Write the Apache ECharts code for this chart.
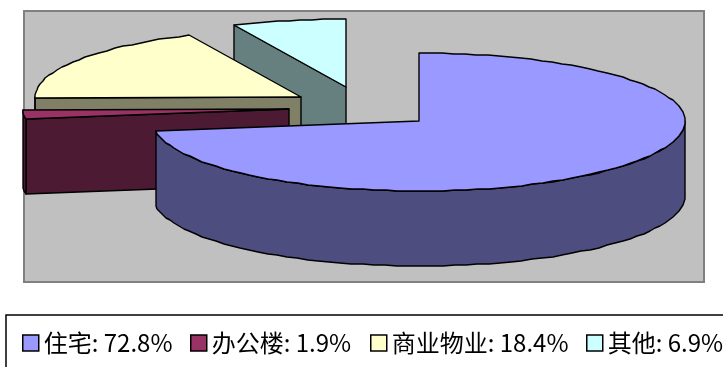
<!DOCTYPE html>
<html>
<head>
<meta charset="utf-8">
<style>html,body{margin:0;padding:0;background:#fff;overflow:hidden}#c{width:723px;height:367px}</style>
<script src="https://cdn.jsdelivr.net/npm/echarts@6/dist/echarts.min.js"></script>
</head>
<body>
<div id="c"></div>
<script>
// Property mix, percentage share per category
const categories = ['住宅', '办公楼', '商业物业', '其他'];
const shares = [72.8, 1.9, 18.4, 6.9];
const topColors = ['#9999ff', '#993366', '#ffffcc', '#ccffff'];
const wallColors = ['#4d4d80', '#4d1a33', '#808066', '#668080'];

// Tilted pie geometry, in pixels
const pie = { cx: 419, cy: 121, rx: 266, ryTop: 68, ryBottom: 70, depth: 75 };
// Exploded slices are shifted from the pie centre by these amounts
const shiftX = [0, -130, -118, -73];
const shiftY = [0, -12, -24, -34];
const legendLeft = [22, 190, 370, 586];

const total = shares.reduce((a, b) => a + b, 0);
const starts = [];
shares.reduce((sum, v, i) => { starts[i] = sum; return sum + v; }, 0);

// Rim point for an angle measured clockwise from twelve o'clock
function rim(deg, ox, oy) {
  const t = deg * Math.PI / 180;
  const c = Math.cos(t);
  const ry = c > 0 ? pie.ryTop : pie.ryBottom;
  return [Math.round(pie.cx + ox + pie.rx * Math.sin(t)), Math.round(pie.cy + oy - ry * c)];
}
function arc(a, b, ox, oy) {
  const pts = [];
  const n = Math.max(1, Math.ceil((b - a) / 2.5));
  for (let k = 0; k <= n; k++) pts.push(rim(a + (b - a) * k / n, ox, oy));
  return pts;
}
const down = p => [p[0], p[1] + pie.depth];

function renderSlice(index) {
  return function (params, api) {
    const value = api.value(0);
    const a = starts[index] / total * 360;
    const b = a + value / total * 360;
    const ox = shiftX[index], oy = shiftY[index];
    const apex = [pie.cx + ox, pie.cy + oy];
    const line = { stroke: '#000', lineWidth: 1.4, lineJoin: 'round' };
    const children = [];
    const wall = pts => children.push({
      type: 'polygon',
      shape: { points: pts },
      style: Object.assign({ fill: wallColors[index] }, line)
    });
    // Radial cut face, visible when the start edge lies on the left half
    if (a > 180 && a < 360) {
      const e = rim(a, ox, oy);
      wall([apex, e, down(e), down(apex)]);
    }
    // Outer wall, only along the near half of the rim
    const wa = Math.max(a, 90), wb = Math.min(b, 270);
    if (wb > wa) {
      const edge = arc(wa, wb, ox, oy);
      wall(edge.concat(edge.slice().reverse().map(down)));
    }
    children.push({
      type: 'polygon',
      shape: { points: [apex].concat(arc(a, b, ox, oy)) },
      style: Object.assign({ fill: topColors[index] }, line)
    });
    return { type: 'group', children };
  };
}

// Paint back to front: the far slices first, the main slice last
const paintOrder = [3, 2, 1, 0];

const option = {
  animation: false,
  backgroundColor: '#fff',
  graphic: [
    { type: 'rect', z: 0, shape: { x: 24, y: 11, width: 680, height: 271 },
      style: { fill: '#c0c0c0', stroke: '#808080', lineWidth: 2 } },
    { type: 'rect', z: 0, shape: { x: 6, y: 315, width: 800, height: 100 },
      style: { fill: '#fff', stroke: '#000', lineWidth: 1.5 } }
  ],
  legend: categories.map((name, i) => ({
    left: legendLeft[i],
    top: 331,
    padding: 0,
    orient: 'horizontal',
    selectedMode: false,
    icon: 'rect',
    itemWidth: 16,
    itemHeight: 16,
    data: [{ name, itemStyle: { color: topColors[i], borderColor: '#000', borderWidth: 1.5 } }],
    formatter: n => n + ': ' + shares[categories.indexOf(n)].toFixed(1) + '%',
    textStyle: { color: '#000', fontSize: 24, lineHeight: 24,
      fontFamily: '"Noto Sans CJK SC",sans-serif' }
  })),
  series: paintOrder.map(i => ({
    type: 'custom',
    name: categories[i],
    coordinateSystem: 'none',
    silent: true,
    z: 2,
    itemStyle: { color: topColors[i] },
    data: [[shares[i]]],
    renderItem: renderSlice(i)
  }))
};
echarts.init(document.getElementById('c'), null, { renderer: 'canvas' }).setOption(option);
</script>
</body>
</html>
